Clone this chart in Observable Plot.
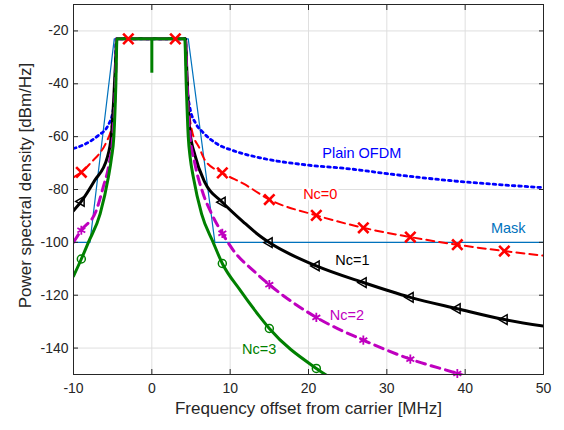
<!DOCTYPE html>
<html>
<head>
<meta charset="utf-8">
<script src="https://cdn.jsdelivr.net/npm/d3@7"></script>
<script src="https://cdn.jsdelivr.net/npm/@observablehq/plot@0.6"></script>
<style>
  html, body { margin: 0; padding: 0; background: #ffffff; }
  #chart { width: 564px; height: 430px; }
</style>
</head>
<body>
<div id="chart"></div>
<script>
// ---- data (frequency offset in MHz, PSD in dBm/Hz) ----
const xTicks = [-10, 0, 10, 20, 30, 40, 50];
const yTicks = [-140, -120, -100, -80, -60, -40, -20];

const maskPts = [[-10, -100], [-7.9, -100], [-4.8, -23], [4.65, -23], [8.05, -100], [50, -100]];

const plainOFDM = [[-10, -64.5], [-8.5, -62.8], [-6.85, -59.6], [-5.6, -55.8], [-4.95, -50.2], [-4.7, -40], [-4.55, -23],
  [4.3, -23], [4.45, -38], [4.85, -49], [5.6, -55], [6.5, -58.3], [8.3, -62.7], [10.4, -65.3], [13.8, -68],
  [20, -70.8], [25.3, -72.2], [30, -74], [38, -76.6], [50, -79.3]];

const nc0 = [[-10, -75.4], [-9, -73.5], [-7.5, -69], [-6.85, -67], [-5.8, -62], [-5.15, -56.5], [-4.8, -45], [-4.6, -30], [-4.5, -23],
  [-3, -23], [3, -23], [4.3, -23], [4.45, -33], [4.7, -48], [5.1, -57.5], [6.1, -64.5], [6.8, -69], [9, -73.7],
  [11.7, -77.8], [15, -83.8], [21, -89.8], [27, -94.5], [33, -98], [39, -100.9], [45, -103.3], [50, -105]];

const nc1 = [[-10, -88], [-9, -84.5], [-7.3, -76.6], [-5.7, -68], [-5.15, -59], [-4.85, -45], [-4.6, -30], [-4.5, -23],
  [4.3, -23], [4.4, -30], [4.6, -45], [4.85, -57.7], [5.5, -67], [6.8, -77.5], [9, -84.8], [11.7, -92.3],
  [13.8, -97.6], [15, -100.1], [21, -108.9], [27, -115.2], [33, -120.8], [39, -125.1], [45, -129.2], [50, -131.7]];

const nc2 = [[-10, -100], [-9, -95.4], [-7.1, -88], [-6.2, -79], [-5.5, -71], [-4.95, -59], [-4.7, -45], [-4.55, -30], [-4.5, -23],
  [4.3, -23], [4.4, -32], [4.6, -48], [4.85, -59], [5.5, -70.3], [6.55, -81.6], [7.6, -89], [9, -96.6],
  [10.4, -103], [13.15, -111.2], [15, -116], [21, -128.4], [27, -137], [33, -144.2], [39, -149.6], [40.5, -151]];

const nc3 = [[-10, -112.8], [-9, -106.3], [-8.1, -100], [-6.6, -89.2], [-5.55, -75.4], [-5.15, -68], [-4.85, -60], [-4.6, -41], [-4.45, -23],
  [4.2, -23], [4.4, -41], [4.65, -60], [4.9, -68], [5.3, -75.4], [6.35, -89.2], [7.83, -100], [9, -108],
  [11.25, -118], [13.8, -128.2], [15, -132.6], [21, -147.7], [22.4, -150.5]];

const dcNull = [{x: 0, top: -23, bottom: -36}];

const markerX = [-9, -3, 3, 9, 15, 21, 27, 33, 39, 45];

const annotations = [
  {label: "Plain OFDM", x: 26.8, y: -66.4, color: "#0000FF"},
  {label: "Nc=0", x: 21.5, y: -81.9, color: "#FF0000"},
  {label: "Mask", x: 45.5, y: -94.7, color: "#0072BD"},
  {label: "Nc=1", x: 25.6, y: -106.8, color: "#000000"},
  {label: "Nc=2", x: 24.9, y: -127.5, color: "#BF00BF"},
  {label: "Nc=3", x: 13.7, y: -140.4, color: "#008000"}
];

const xLabel = "Frequency offset from carrier [MHz]";
const yLabel = "Power spectral density [dBm/Hz]";

// ---- drawing ----
const axisColor = "#262626";
const px = d => d[0], py = d => d[1];
const marks = (pts) => pts.filter(d => markerX.includes(d[0]));

const chart = Plot.plot({
  width: 564,
  height: 430,
  marginLeft: 73,
  marginRight: 21,
  marginTop: 4,
  marginBottom: 56,
  style: {fontFamily: "'Liberation Sans', Arial, Helvetica, sans-serif", fontSize: "14px", color: axisColor, background: "#ffffff"},
  x: {domain: [-10, 50], axis: null},
  y: {domain: [-150, -10], axis: null},
  marks: [
    Plot.gridX({ticks: xTicks, stroke: "#dfdfdf", strokeOpacity: 1}),
    Plot.gridY({ticks: yTicks, stroke: "#dfdfdf", strokeOpacity: 1}),
    Plot.line(maskPts, {x: px, y: py, stroke: "#0072BD", strokeWidth: 1.2}),
    Plot.line(plainOFDM, {x: px, y: py, stroke: "#0000FF", strokeWidth: 2.8, strokeDasharray: "2.6 3.8", curve: "monotone-x", clip: true}),
    Plot.line(nc0, {x: px, y: py, stroke: "#FF0000", strokeWidth: 2, strokeDasharray: "8 5", curve: "monotone-x", clip: true}),
    Plot.line(nc1, {x: px, y: py, stroke: "#000000", strokeWidth: 3, curve: "monotone-x", clip: true}),
    Plot.line(nc2, {x: px, y: py, stroke: "#BF00BF", strokeWidth: 3, strokeDasharray: "9 6", curve: "monotone-x", clip: true}),
    Plot.line(nc3, {x: px, y: py, stroke: "#008000", strokeWidth: 3, curve: "monotone-x", clip: true}),
    Plot.ruleX(dcNull, {x: "x", y1: "top", y2: "bottom", stroke: "#008000", strokeWidth: 3}),
    Plot.dot(marks(nc1), {x: px, y: py, symbol: "triangle", rotate: -90, r: 3.6, stroke: "#000000", strokeWidth: 1.5, fill: "none"}),
    Plot.dot(marks(nc2), {x: px, y: py, symbol: "asterisk", r: 4.3, stroke: "#BF00BF", strokeWidth: 1.8}),
    Plot.dot(marks(nc3), {x: px, y: py, symbol: "circle", r: 4, stroke: "#008000", strokeWidth: 1.5, fill: "none"}),
    Plot.dot(marks(nc0), {x: px, y: py, symbol: "times", r: 4.8, stroke: "#FF0000", strokeWidth: 2.6}),
    ...annotations.map(a => Plot.text([a], {x: "x", y: "y", text: "label", fill: a.color, fontSize: 14.5, stroke: "#ffffff", strokeWidth: 5})),
    Plot.frame({stroke: axisColor, strokeWidth: 1}),
    // tick labels
    Plot.axisX({ticks: xTicks, anchor: "bottom", tickSize: 0, tickPadding: 9, label: null, fontSize: 14, fill: axisColor, tickFormat: d => String(d)}),
    Plot.axisY({ticks: yTicks, anchor: "left", tickSize: 0, tickPadding: 5, label: null, fontSize: 14, fill: axisColor, tickFormat: d => String(d)}),
    // inward ticks on all four sides
    Plot.axisX({ticks: xTicks, anchor: "bottom", tickSize: 5, dy: -5, label: null, fill: "none", stroke: axisColor, tickFormat: () => ""}),
    Plot.axisX({ticks: xTicks, anchor: "top", tickSize: 5, dy: 5, label: null, fill: "none", stroke: axisColor, tickFormat: () => ""}),
    Plot.axisY({ticks: yTicks, anchor: "left", tickSize: 5, dx: 5, label: null, fill: "none", stroke: axisColor, tickFormat: () => ""}),
    Plot.axisY({ticks: yTicks, anchor: "right", tickSize: 5, dx: -5, label: null, fill: "none", stroke: axisColor, tickFormat: () => ""}),
    // axis titles
    Plot.text([xLabel], {text: d => d, frameAnchor: "bottom", textAnchor: "middle", dy: 39, fontSize: 17, fill: axisColor}),
    Plot.text([yLabel], {text: d => d, frameAnchor: "left", textAnchor: "middle", rotate: -90, dx: -48, dy: -4, fontSize: 17, fill: axisColor})
  ]
});
document.getElementById("chart").appendChild(chart);
</script>
</body>
</html>
